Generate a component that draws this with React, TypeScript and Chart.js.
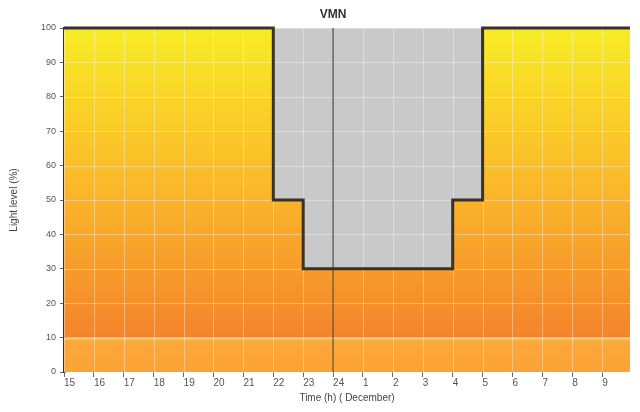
import React, { useEffect, useRef } from "react";
import { Chart, registerables } from "chart.js";

Chart.register(...registerables);

// Step schedule of light level (x in hours since 0:00 of the 23rd; 24 = midnight)
const stepHours = [15, 22, 23, 28, 29, 34];
const lightLevels = [100, 50, 30, 50, 100, 100];
const xMin = 15;
const xMax = 33.93;
const midnightHour = [24, 24];
const midnightLevels = [0, 100];
const hourTickLabels = [
  "15", "16", "17", "18", "19", "20", "21", "22", "23", "24",
  "1", "2", "3", "4", "5", "6", "7", "8", "9",
];
const yTicks = [0, 10, 20, 30, 40, 50, 60, 70, 80, 90, 100];
const title = "VMN";
const xTitle = "Time (h) ( December)";
const yTitle = "Light level (%)";

const FONT = "'Liberation Sans', Arial, sans-serif";

export default function App() {
  const ref = useRef<HTMLCanvasElement | null>(null);

  useEffect(() => {
    if (!ref.current) return;

    const bgPlugin = {
      id: "bgPlugin",
      beforeDatasetsDraw(chart: any) {
        const { ctx, chartArea, scales } = chart;
        const y = scales.y;
        const y100 = y.getPixelForValue(100);
        const y10 = y.getPixelForValue(10);
        const y0 = y.getPixelForValue(0);
        ctx.save();
        const g = ctx.createLinearGradient(0, y100, 0, y10);
        g.addColorStop(0, "#f8ec26");
        g.addColorStop(0.5, "#fbb92a");
        g.addColorStop(1, "#f4842b");
        ctx.fillStyle = g;
        ctx.fillRect(chartArea.left, y100, chartArea.right - chartArea.left, y10 - y100);
        const g2 = ctx.createLinearGradient(0, y10, 0, y0);
        g2.addColorStop(0, "#fcc052");
        g2.addColorStop(0.12, "#fba83a");
        g2.addColorStop(1, "#fba334");
        ctx.fillStyle = g2;
        ctx.fillRect(chartArea.left, y10, chartArea.right - chartArea.left, y0 - y10);
        ctx.restore();
      },
      afterDatasetDraw(chart: any, args: any) {
        if (args.index !== 2) return;
        const { ctx, chartArea, scales } = chart;
        ctx.save();
        ctx.strokeStyle = "rgba(255,255,255,0.35)";
        ctx.lineWidth = 1;
        for (let h = Math.ceil(xMin); h <= xMax; h++) {
          const px = Math.round(scales.x.getPixelForValue(h)) + 0.5;
          ctx.beginPath();
          ctx.moveTo(px, chartArea.top);
          ctx.lineTo(px, chartArea.bottom);
          ctx.stroke();
        }
        for (const v of yTicks) {
          const py = Math.round(scales.y.getPixelForValue(v)) + 0.5;
          ctx.beginPath();
          ctx.moveTo(chartArea.left, py);
          ctx.lineTo(chartArea.right, py);
          ctx.stroke();
        }
        ctx.restore();
      },
      afterDraw(chart: any) {
        const { ctx, scales } = chart;
        ctx.save();
        ctx.fillStyle = "#333";
        ctx.font = `bold 12px ${FONT}`;
        ctx.textAlign = "center";
        ctx.textBaseline = "middle";
        ctx.fillText(title, scales.x.getPixelForValue(24), 7);
        ctx.restore();
      },
    };

    const stepData = stepHours.map((h, i) => ({ x: h, y: lightLevels[i] }));
    const midData = midnightHour.map((h, i) => ({ x: h, y: midnightLevels[i] }));

    const chart = new Chart(ref.current, {
      type: "line",
      data: {
        datasets: [
          {
            label: "level",
            data: stepData,
            stepped: "before",
            borderColor: "#3a3224",
            borderWidth: 3,
            pointRadius: 0,
            fill: false,
            clip: { left: 2, right: 0, top: 3, bottom: 2 },
          },
          {
            label: "midnight",
            data: midData,
            borderColor: "#4a4a4a",
            borderWidth: 1.2,
            pointRadius: 0,
            fill: false,
          },
          {
            label: "dark",
            data: stepData,
            stepped: "before",
            borderWidth: 0,
            borderColor: "rgba(0,0,0,0)",
            backgroundColor: "#c9c9c9",
            pointRadius: 0,
            fill: { value: 100 },
          },
        ],
      },
      options: {
        animation: false,
        responsive: true,
        maintainAspectRatio: false,
        layout: { padding: { top: 20, right: 2, left: 0, bottom: 0 } },
        plugins: {
          legend: { display: false },
          tooltip: { enabled: false },
          title: { display: false },
        },
        scales: {
          x: {
            type: "linear",
            min: xMin,
            max: xMax,
            afterBuildTicks(scale: any) {
              const t: any[] = [];
              for (let h = xMin; h <= xMax; h++) t.push({ value: h });
              scale.ticks = t;
            },
            afterFit(scale: any) {
              scale.height = 32;
            },
            grid: {
              color: "rgba(0,0,0,0)",
              tickColor: "#666",
              tickLength: 5,
              drawOnChartArea: false,
            },
            border: { display: false },
            ticks: {
              autoSkip: false,
              maxRotation: 0,
              align: "start",
              padding: 0,
              color: "#555",
              font: { family: FONT, size: 10 },
              callback: (_v: any, i: number) => hourTickLabels[i],
            },
            title: {
              display: true,
              text: xTitle,
              color: "#444",
              font: { family: FONT, size: 10 },
              padding: { top: 2, bottom: 0 },
            },
          },
          y: {
            min: 0,
            max: 100,
            afterBuildTicks(scale: any) {
              scale.ticks = yTicks.map((v) => ({ value: v }));
            },
            afterFit(scale: any) {
              scale.width = 56;
            },
            grid: {
              color: "rgba(0,0,0,0)",
              tickColor: "#666",
              tickLength: 4,
              drawOnChartArea: false,
            },
            border: { display: true, color: "#3a3224", width: 3 },
            ticks: {
              color: "#555",
              padding: 4,
              font: { family: FONT, size: 9 },
            },
            title: {
              display: true,
              text: yTitle,
              color: "#444",
              font: { family: FONT, size: 10 },
              padding: { top: 0, bottom: 4 },
            },
          },
        },
      },
      plugins: [bgPlugin],
    });

    return () => chart.destroy();
  }, []);

  return (
    <div style={{ width: 624, height: 396, position: "relative" }}>
      <canvas ref={ref} />
    </div>
  );
}
